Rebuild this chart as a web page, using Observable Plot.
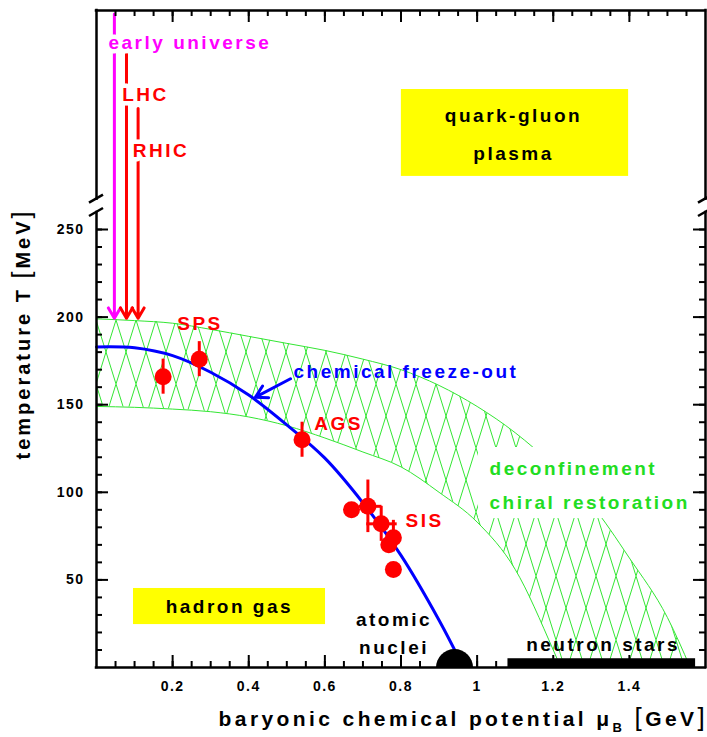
<!DOCTYPE html>
<html><head><meta charset="utf-8">
<script src="https://cdn.jsdelivr.net/npm/d3@7"></script>
<script src="https://cdn.jsdelivr.net/npm/@observablehq/plot@0.6"></script>
<style>html,body{margin:0;padding:0;background:#fff}#chart svg{display:block}</style>
</head><body><div id="chart"></div>
<script>
// ---- data ----
const bandMu    = [0, 0.1, 0.2, 0.3, 0.4, 0.5, 0.6, 0.7, 0.8, 0.9, 1.0, 1.1, 1.2, 1.22, 1.3, 1.4, 1.5, 1.56];
const bandUpper = [199, 198, 196.5, 193, 189, 185, 181, 176, 170, 161, 149, 134, 115, 110.5, 93, 62.5, 28.5, 0];
const bandLower = [149, 148.5, 147.5, 146, 143, 138, 131, 123, 114.5, 100, 83, 56, 10, 0, 0, 0, 0, 0];

const curveMu = [0, 0.1, 0.2, 0.3, 0.4, 0.5, 0.6, 0.7, 0.8, 0.9, 0.955];
const curveT  = [183, 182.5, 178, 168.5, 155.5, 138.5, 119.5, 94, 64, 27, 4];

const pointMu  = [0.175, 0.27, 0.54, 0.67, 0.713, 0.748, 0.78, 0.768, 0.78];
const pointT   = [166, 176, 130, 90, 92, 82, 74, 70, 56];
const errTLow  = [156, 166, 120, null, 77, 72, 66, null, null];
const errTHigh = [176, 186, 140, null, 107, 92, 84, null, null];
const errMuLow = [null, null, null, null, 0.69, 0.71, 0.765, null, null];
const errMuHigh= [null, null, null, null, 0.75, 0.79, 0.80, null, null];

const xTickLabels = [0.2, 0.4, 0.6, 0.8, 1, 1.2, 1.4];
const yTickLabels = [50, 100, 150, 200, 250];

// annotations: [text, mu, T]
const redLabels   = [["SPS", 0.272, 196.2], ["AGS", 0.636, 139.2], ["SIS", 0.862, 83.6]];
const beamLabels  = [["early universe", 0.0315, 356.5, "#ff00ff"], ["LHC", 0.0675, 327, "#ff0000"], ["RHIC", 0.0954, 294.7, "#ff0000"]];
const beamArrows  = [[0.047, 373, 199.3, "#ff00ff"], [0.0788, 350.5, 199.3, "#ff0000"], [0.1093, 319, 199.3, "#ff0000"]];
const blackLabels = [["quark-gluon", 1.0956, 314.6], ["plasma", 1.0956, 293.4], ["hadron gas", 0.349, 34.5],
                     ["atomic", 0.7817, 27.4], ["nuclei", 0.7817, 11.3], ["neutron stars", 1.331, 12.8]];
const greenLabels = [["deconfinement", 1.0326, 113.6], ["chiral restoration", 1.0326, 94.1]];
const freezeLabel = [["chemical freeze-out", 0.5176, 168.6]];
const freezeArrow = [[0.5097, 164.8, 0.4178, 154.3]];
const yellowBoxes = [[0.801, 1.398, 280.3, 329.9], [0.0972, 0.6017, 24.5, 45.1]];
const textMask    = [[1.0037, 1.6, 85, 125.6]];
const nucleiMu = [0.9406];
const neutronStar = [[1.081, 1.574, 0, 5]];

// ---- tables ----
const band = bandMu.map((m, i) => ({mu: m, hi: bandUpper[i], lo: bandLower[i]}));
const curve = curveMu.map((m, i) => ({mu: m, T: curveT[i]}));
const pts = pointMu.map((m, i) => ({mu: m, T: pointT[i], tlo: errTLow[i], thi: errTHigh[i], mlo: errMuLow[i], mhi: errMuHigh[i]}));

const ML = 96, MR = 2, MT = 10, MB = 70, W = 707, H = 737;
const FW = W - ML - MR, FH = H - MT - MB;
const xMinor = d3.range(0.05, 1.56, 0.05);
const xMajor = xTickLabels;
const yMinor = d3.range(10, 251, 10);
const yMajor = yTickLabels;
const GREEN = "#33e633";

const plot = Plot.plot({
  width: W, height: H,
  marginLeft: ML, marginRight: MR, marginTop: MT, marginBottom: MB,
  x: {domain: [0, 1.6]},
  y: {domain: [0, 375]},
  style: {fontFamily: "'Liberation Sans', Arial, sans-serif", fontWeight: "bold", background: "white", color: "black"},
  marks: [
    Plot.rect(yellowBoxes, {x1: d => d[0], x2: d => d[1], y1: d => d[2], y2: d => d[3], fill: "#ffff00"}),
    Plot.areaY(band, {x: "mu", y1: "lo", y2: "hi", fill: "url(#hatch)", curve: "monotone-x"}),
    Plot.line(band, {x: "mu", y: "hi", stroke: GREEN, strokeWidth: 1, curve: "monotone-x"}),
    Plot.line(band.filter(d => d.mu <= 1.22), {x: "mu", y: "lo", stroke: GREEN, strokeWidth: 1, curve: "monotone-x"}),
    Plot.rect(textMask, {x1: d => d[0], x2: d => d[1], y1: d => d[2], y2: d => d[3], fill: "white"}),
    Plot.text(greenLabels, {x: d => d[1], y: d => d[2], text: d => d[0], fill: "#22dd22", fontSize: 19, fontWeight: "bold", textAnchor: "start"}),
    Plot.line(curve, {x: "mu", y: "T", stroke: "#0000ff", strokeWidth: 3, curve: "catmull-rom"}),
    Plot.arrow(freezeArrow, {x1: d => d[0], y1: d => d[1], x2: d => d[2], y2: d => d[3], stroke: "#0000ff", strokeWidth: 3, headLength: 7, headAngle: 60}),
    Plot.dot(nucleiMu, {x: d => d, y: 0, r: 18.5, fill: "black", clip: "frame"}),
    Plot.rect(neutronStar, {x1: d => d[0], x2: d => d[1], y1: d => d[2], y2: d => d[3], fill: "black"}),
    Plot.ruleX(pts.filter(d => d.tlo != null), {x: "mu", y1: "tlo", y2: "thi", stroke: "#ff0000", strokeWidth: 3}),
    Plot.ruleY(pts.filter(d => d.mlo != null), {y: "T", x1: "mlo", x2: "mhi", stroke: "#ff0000", strokeWidth: 3}),
    Plot.dot(pts, {x: "mu", y: "T", r: 8.5, fill: "#ff0000"}),
    Plot.arrow(beamArrows, {x: d => d[0], y1: d => d[1], y2: d => d[2], stroke: d => d[3], strokeWidth: 3, headLength: 6, headAngle: 60}),
    Plot.text(beamLabels, {x: d => d[1], y: d => d[2], text: d => d[0], fill: d => d[3], fontSize: 19, fontWeight: "bold", textAnchor: "start", stroke: "white", strokeWidth: 9, paintOrder: "stroke"}),
    Plot.text(redLabels, {x: d => d[1], y: d => d[2], text: d => d[0], fill: "#ff0000", fontSize: 19, fontWeight: "bold"}),
    Plot.text(blackLabels, {x: d => d[1], y: d => d[2], text: d => d[0], fill: "black", fontSize: 19, fontWeight: "bold"}),
    Plot.text(freezeLabel, {x: d => d[1], y: d => d[2], text: d => d[0], fill: "#0000ff", fontSize: 19, fontWeight: "bold", textAnchor: "start"}),
    // ticks (inside)
    Plot.tickX(xMinor, {x: d => d, stroke: "black", strokeWidth: 2, insetTop: FH - 6}),
    Plot.tickX(xMajor, {x: d => d, stroke: "black", strokeWidth: 2, insetTop: FH - 12}),
    Plot.tickX(xMinor, {x: d => d, stroke: "black", strokeWidth: 2, insetBottom: FH - 6}),
    Plot.tickX(xMajor, {x: d => d, stroke: "black", strokeWidth: 2, insetBottom: FH - 12}),
    Plot.tickY(yMinor, {y: d => d, stroke: "black", strokeWidth: 2, insetRight: FW - 6}),
    Plot.tickY(yMajor, {y: d => d, stroke: "black", strokeWidth: 2, insetRight: FW - 12}),
    Plot.tickY(yMinor, {y: d => d, stroke: "black", strokeWidth: 2, insetLeft: FW - 6}),
    Plot.tickY(yMajor, {y: d => d, stroke: "black", strokeWidth: 2, insetLeft: FW - 12}),
    // frame with axis break
    Plot.ruleY([0, 375], {stroke: "black", strokeWidth: 2.5, strokeLinecap: "square"}),
    Plot.ruleX([[0, 0, 259.7], [0, 267.3, 375], [1.6, 0, 259.7], [1.6, 267.3, 375]], {x: d => d[0], y1: d => d[1], y2: d => d[2], stroke: "black", strokeWidth: 2.5, strokeLinecap: "square"}),
    Plot.axisX({ticks: xTickLabels, tickSize: 0, tickPadding: 14, label: null, fontSize: 14, tickFormat: d => String(d)}),
    Plot.axisY({ticks: yTickLabels, tickSize: 0, tickPadding: 12, label: null, fontSize: 14, tickFormat: d => String(d)})
  ]
});

const svg = d3.select(plot);
const sx = plot.scale("x"), sy = plot.scale("y");
// hatch pattern
const defs = svg.insert("defs", ":first-child");
const pat = defs.append("pattern").attr("id", "hatch").attr("patternUnits", "userSpaceOnUse")
  .attr("width", 20).attr("height", 64).attr("x", ML).attr("y", 0);
pat.append("line").attr("x1", -1).attr("y1", -3.2).attr("x2", 21).attr("y2", 67.2).attr("stroke", GREEN).attr("stroke-width", 1);
pat.append("line").attr("x1", 21).attr("y1", -3.2).attr("x2", -1).attr("y2", 67.2).attr("stroke", GREEN).attr("stroke-width", 1);
svg.selectAll('g[aria-label="area"] path').attr("fill", "url(#hatch)");
// letter spacing for annotation texts and tick labels
svg.selectAll('g[aria-label="text"] text').style("letter-spacing", "2.5px");
svg.selectAll('g[aria-label^="x-axis"] text, g[aria-label^="y-axis"] text').style("letter-spacing", "1.5px");

// axis break slashes
const g = svg.append("g").attr("stroke", "black").attr("stroke-width", 2.5);
for (const xv of [0, 1.6]) {
  const px = sx.apply(xv);
  for (const tv of [259.7, 267.3]) {
    const py = sy.apply(tv);
    g.append("line").attr("x1", px - 7).attr("y1", py + 4).attr("x2", px + 7).attr("y2", py - 4);
  }
}

// axis titles
const xl = svg.append("text").attr("x", 708).attr("y", 726).attr("text-anchor", "end")
  .attr("font-size", 21).attr("font-weight", "bold").style("letter-spacing", "3.4px").attr("fill", "black");
xl.append("tspan").text("baryonic chemical potential \u03bc");
xl.append("tspan").attr("font-size", 13).attr("dy", 6).text("B");
xl.append("tspan").attr("dy", -6).text(" ");
xl.append("tspan").attr("font-weight", "normal").attr("font-size", 26).text("[");
xl.append("tspan").text("GeV");
xl.append("tspan").attr("font-weight", "normal").attr("font-size", 26).text("]");

const yl = svg.append("text").attr("transform", "translate(30,334) rotate(-90)").attr("text-anchor", "middle")
  .attr("font-size", 20).attr("font-weight", "bold").style("letter-spacing", "3px").attr("fill", "black");
yl.append("tspan").text("temperature T ");
yl.append("tspan").attr("font-weight", "normal").attr("font-size", 25).text("[");
yl.append("tspan").text("MeV");
yl.append("tspan").attr("font-weight", "normal").attr("font-size", 25).text("]");

document.getElementById("chart").appendChild(plot);
</script>
</body></html>
